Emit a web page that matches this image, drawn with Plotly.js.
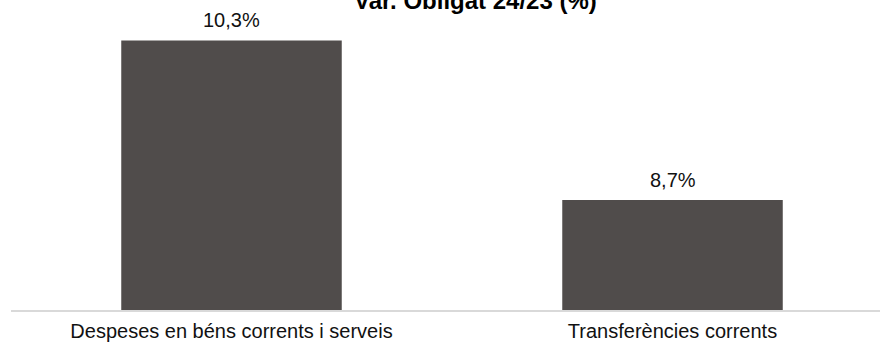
<!DOCTYPE html>
<html>
<head>
<meta charset="utf-8">
<script src="https://cdn.plot.ly/plotly-3.0.1.min.js"></script>
<style>html,body{margin:0;padding:0;background:#fff;}#chart{width:880px;height:344px;}</style>
</head>
<body>
<div id="chart"></div>
<script>
const categories = ["Despeses en béns corrents i serveis", "Transferències corrents"];
const values = [10.3, 8.7];
const valueLabels = ["10,3%", "8,7%"];
const chartTitle = "Var. Obligat 24/23 (%)";

const font = "Liberation Sans, Arial, sans-serif";
const trace = {
  type: "bar",
  x: categories,
  y: values,
  width: 0.5,
  marker: {color: "#504c4b"},
  hoverinfo: "none"
};
const annotations = categories.map((c, i) => ({
  x: c, y: values[i], xref: "x", yref: "y",
  text: valueLabels[i], showarrow: false,
  yanchor: "bottom", yshift: 7,
  font: {family: font, size: 20, color: "#111"}
}));
annotations.push({
  xref: "paper", yref: "paper", x: 0.534, y: 1, yanchor: "middle", yshift: 0,
  text: "<b>" + chartTitle + "</b>", showarrow: false,
  font: {family: font, size: 24, color: "#000"}
});
const layout = {
  width: 880, height: 344,
  margin: {l: 11, r: 0, t: 0, b: 34},
  paper_bgcolor: "#fff", plot_bgcolor: "#fff",
  showlegend: false,
  xaxis: {
    type: "category",
    range: [-0.5, 1.4705],
    showline: true, linecolor: "#d9d9d9", linewidth: 2,
    ticks: "", showgrid: false, zeroline: false,
    tickfont: {family: font, size: 20, color: "#111"},
    ticklabelstandoff: 2
  },
  yaxis: {
    range: [7.597, 10.706],
    visible: false, showgrid: false, zeroline: false
  },
  annotations: annotations
};
Plotly.newPlot("chart", [trace], layout, {staticPlot: true, displayModeBar: false});
</script>
</body>
</html>
